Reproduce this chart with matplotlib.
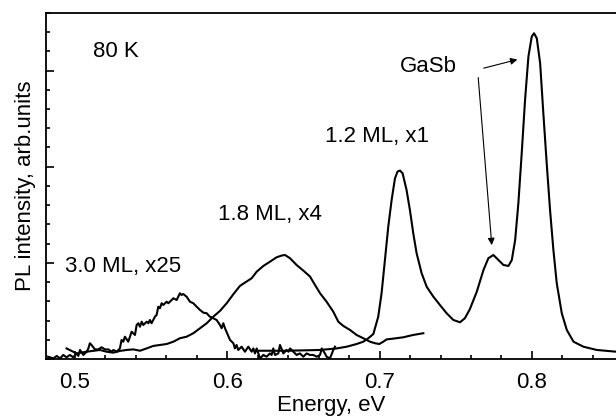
import matplotlib
matplotlib.use("Agg")
import matplotlib.pyplot as plt
from matplotlib.ticker import MultipleLocator, NullFormatter

plt.rcParams['font.family'] = ['Liberation Sans', 'DejaVu Sans']

# 3.0 ML, x25 (noisy)
e_30 = [0.480, 0.4836, 0.4858, 0.488, 0.4902, 0.4923, 0.4945, 0.4967, 0.4989, 0.5011,
        0.5022, 0.5033, 0.5055, 0.5077, 0.5088, 0.5098, 0.5109, 0.5131, 0.5153, 0.5175,
        0.5197, 0.5219, 0.5241, 0.5252, 0.5274, 0.5295, 0.5306, 0.5317, 0.5328, 0.535,
        0.5361, 0.5372, 0.5394, 0.5405, 0.5416, 0.5427, 0.5438, 0.5449, 0.5471, 0.5482,
        0.5492, 0.5503, 0.5525, 0.5536, 0.5547, 0.5558, 0.5569, 0.558, 0.5602, 0.5613,
        0.5635, 0.5646, 0.5668, 0.5678, 0.5689, 0.570, 0.5711, 0.5733, 0.5755, 0.5777,
        0.5799, 0.5821, 0.5843, 0.5865, 0.5875, 0.5886, 0.5908, 0.593, 0.5952, 0.5963,
        0.5974, 0.5985, 0.6018, 0.604, 0.605, 0.6061, 0.6072, 0.6094, 0.6116, 0.6138,
        0.616, 0.6171, 0.6182, 0.6193, 0.6204, 0.6215, 0.6237, 0.6258, 0.628, 0.6291,
        0.6302, 0.6313, 0.6335, 0.6346, 0.6368, 0.639, 0.6401, 0.6412, 0.6423, 0.6434,
        0.6455, 0.6477, 0.6499, 0.6521, 0.6543, 0.6565, 0.6587, 0.6609, 0.662, 0.6641,
        0.6652, 0.6674, 0.6696, 0.6707]
i_30 = [0.16, 0.09, 0.03, 0.16, 0.03, 0.21, 0.09, 0.21, 0.09, 0.29,
        0.16, 0.47, 0.21, 0.38, 0.55, 0.82, 0.73, 0.50, 0.50, 0.61,
        0.50, 0.50, 0.38, 0.47, 0.38, 0.55, 0.99, 0.90, 1.16, 0.90,
        1.16, 1.42, 1.25, 1.77, 1.86, 1.68, 1.94, 1.77, 1.94, 1.86,
        2.03, 1.86, 2.20, 2.29, 2.72, 2.64, 2.90, 2.81, 2.98, 2.90,
        3.07, 3.16, 3.07, 3.24, 3.42, 3.33, 3.38, 3.24, 2.98, 2.90,
        2.72, 2.55, 2.41, 2.38, 2.29, 2.20, 2.12, 2.03, 1.77, 1.60,
        1.86, 1.60, 0.99, 0.82, 0.55, 0.73, 0.47, 0.64, 0.38, 0.64,
        0.38, 0.55, 0.29, 0.55, 0.29, 0.03, 0.21, 0.12, 0.29, 0.21,
        0.55, 0.21, 0.29, 0.73, 0.29, 0.47, 0.38, 0.55, 0.47, 0.38,
        0.21, 0.29, 0.12, 0.29, 0.21, 0.21, 0.12, 0.21, 0.55, 0.29,
        0.12, 0.03, 0.47, 0.64]

# 1.8 ML, x4
e_18 = [0.4945, 0.5011, 0.5077, 0.5164, 0.5208, 0.5252, 0.5295, 0.5339, 0.5383, 0.5427,
        0.547, 0.5514, 0.5558, 0.5602, 0.5646, 0.5689, 0.5733, 0.5777, 0.5821, 0.5865,
        0.5908, 0.5952, 0.5996, 0.604, 0.6083, 0.6127, 0.616, 0.6193, 0.6237, 0.628,
        0.6324, 0.6357, 0.6379, 0.6412, 0.6455, 0.6499, 0.6543, 0.6576, 0.6609, 0.6652,
        0.6696, 0.6729, 0.6762, 0.6806, 0.6849, 0.6893, 0.6937, 0.697, 0.6998, 0.7024,
        0.7046, 0.709, 0.7156, 0.722, 0.7287]
i_18 = [0.55, 0.29, 0.38, 0.47, 0.38, 0.33, 0.42, 0.47, 0.50, 0.43,
        0.55, 0.68, 0.73, 0.78, 0.90, 1.08, 1.16, 1.34, 1.60, 1.86,
        2.20, 2.50, 2.90, 3.37, 3.80, 4.03, 4.20, 4.54, 4.84, 5.06,
        5.29, 5.38, 5.41, 5.24, 4.89, 4.60, 4.29, 3.85, 3.42, 2.98,
        2.46, 1.94, 1.72, 1.51, 1.25, 1.08, 0.90, 0.82, 0.78, 0.90,
        1.02, 1.06, 1.13, 1.25, 1.34]

# 1.2 ML, x1 (with GaSb lines)
e_12 = [0.6193, 0.639, 0.6609, 0.6718, 0.6784, 0.6849, 0.6893, 0.6926, 0.6959, 0.6991,
        0.7013, 0.7035, 0.7057, 0.7079, 0.7101, 0.7118, 0.7134, 0.7151, 0.7177, 0.7199,
        0.7221, 0.7243, 0.7276, 0.7309, 0.7353, 0.7396, 0.744, 0.7484, 0.7528, 0.756,
        0.7593, 0.7638, 0.7682, 0.7714, 0.7747, 0.778, 0.7813, 0.7846, 0.7868, 0.789,
        0.7911, 0.7933, 0.7955, 0.7977, 0.7999, 0.8014, 0.8032, 0.8054, 0.8075, 0.8097,
        0.8119, 0.8141, 0.8163, 0.8196, 0.8229, 0.8273, 0.8338, 0.8426, 0.8553]
i_12 = [0.43, 0.43, 0.47, 0.55, 0.64, 0.78, 0.90, 1.08, 1.30, 2.20,
        3.42, 5.15, 6.89, 8.27, 9.40, 9.75, 9.80, 9.66, 8.79, 7.75,
        6.54, 5.50, 4.46, 3.76, 3.24, 2.81, 2.38, 2.03, 1.91, 2.12,
        2.60, 3.50, 4.63, 5.24, 5.41, 5.15, 4.89, 4.84, 5.15, 6.19,
        8.10, 10.70, 13.48, 15.73, 16.77, 16.94, 16.68, 15.38, 12.78, 10.18,
        7.75, 5.67, 3.94, 2.38, 1.51, 0.90, 0.64, 0.47, 0.38]

fig = plt.figure(figsize=(6.16, 4.16), dpi=100)
ax = fig.add_axes([0.0747, 0.137, 0.9253, 0.832])

for e, i in [(e_30, i_30), (e_18, i_18), (e_12, i_12)]:
    ax.plot(e, i, color="black", lw=1.5)

ax.set_xlim(0.481, 0.8552)
ax.set_ylim(0, 18)
ax.xaxis.set_major_locator(MultipleLocator(0.1))
ax.xaxis.set_minor_locator(MultipleLocator(0.02))
ax.yaxis.set_major_locator(MultipleLocator(5))
ax.yaxis.set_minor_locator(MultipleLocator(1))
ax.yaxis.set_major_formatter(NullFormatter())
ax.tick_params(which="both", direction="in", width=1.2, labelsize=16)
ax.tick_params(axis="x", which="major", pad=9)
ax.tick_params(which="major", length=6)
ax.tick_params(which="minor", length=3)
ax.spines["right"].set_visible(False)
for s in ["left", "top", "bottom"]:
    ax.spines[s].set_linewidth(1.3)

ax.set_xlabel("Energy, eV", fontsize=16, labelpad=2)
ax.set_ylabel("PL intensity, arb.units", fontsize=16, labelpad=4)

ax.text(0.5118, 16.0, "80 K", fontsize=16, va="center")
ax.text(0.4934, 4.8, "3.0 ML, x25", fontsize=16, va="center")
ax.text(0.594, 7.5, "1.8 ML, x4", fontsize=16, va="center")
ax.text(0.664, 11.55, "1.2 ML, x1", fontsize=16, va="center")
ax.text(0.7318, 15.2, "GaSb", fontsize=16, va="center", ha="center")

arrow = dict(arrowstyle="-|>", color="black", lw=0.8, mutation_scale=10)
ax.annotate("", xy=(0.7738, 5.78), xytext=(0.7646, 14.78), arrowprops=arrow)
ax.annotate("", xy=(0.7922, 15.61), xytext=(0.7666, 15.09), arrowprops=arrow)

fig.savefig("out.png", dpi=100)
